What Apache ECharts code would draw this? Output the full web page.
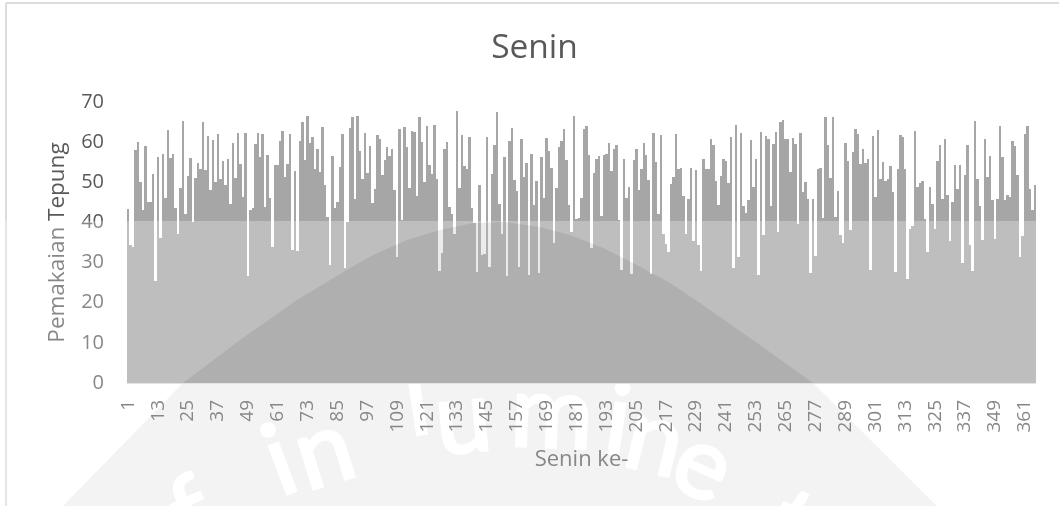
<!DOCTYPE html>
<html><head><meta charset="utf-8">
<style>html,body{margin:0;padding:0;background:#fff}#c{width:1059px;height:506px}</style>
<script src="https://cdn.jsdelivr.net/npm/echarts@6/dist/echarts.min.js"></script>
</head><body><div id="c"></div>
<script>
const chartTitle = "Senin";
const xAxisName = "Senin ke-";
const yAxisName = "Pemakaian Tepung";
const usageA = [43.4,34.5,34,58,60,50,43,59,45,45,52,25.5,56.3,36,57,46,63,56,57,43.5,37,48.5,65.3,42,51.5,56,40,51,54.7,53.4,65,53,61.5,48,60.5,50,62,50.7,55.3,49.4,55.7,44.7,59.8,51,62.4,54.5,46.3,62.2,26.6,43,43.7,59.5,62.2,56.3,62,43.8,56.7,46,34,54.4,54.4,60.3,62.8,51.3,54.5,62,33.2,52.8,32.8,60.3,65,55.5,66.5,59.7,61.2,53.2,58.2,52.6,63.8,49.2,41.3,29.4,56.5,43.7,45,53.8,62,28.6,40];
const usageB = [63.6,66.2,45.8,66.6,57.8,50.9,62.2,52.2,59,44.9,48.4,61.7,60.7,51.7,55.5,58.7,56.5,58.2,48,31.5,63.2,40.5,63.7,58.7,48.7,62.8,62.5,46.6,66.2,60.1,50,64,54.2,52,64.2,50.7,27.8,32.3,58.2,60.1,43.8,42,37.2,67.7,48.7,61.9,54.1,53.3,61.2,43.7,39.8,27.6,49.2,31.8,32.2,61.2,28.8,52,59.3,67.4,44.5,37,56.3,26.7,60.2,63.6,50.5,47.8,28.8,60.7,51.3,54.7,26.9,57,44.4,50.3,27.4,56.2,46.2,61.1,57.8,53.5,34.9,48.7,58.8,60.2,63.2,55.5,44.4,37.6,66.6,40.9,41.2];
const usageC = [46.2,63.2,64.1,56.8,33.7,52.2,55.9,56.6,41.6,56.8,57,59.9,52.8,58.2,59.3,40.5,28.2,55.9,46.1,48.8,27.2,55.5,58.2,48,53.4,59.8,56.9,50.5,27.2,62.2,55.1,42.2,61.9,37,34.7,32.6,49.5,51.3,62,53.2,53.5,46.6,37,45.8,53.6,35.3,53,34.4,27.8,55.7,53.4,53.2,60.7,59.4,50.2,44.3,51.5,55.8,55.3,49.9,61.3,28.6,64.3,31.5,62.4,44.1,42.3,45.5,60.5,48.8,55.7,26.9,62.6,36.9,61.5,60.7,44.1,59.5,62.6,37.7,65.1,65.5,60.7,60.7,52.6,61.1,59.5,39.7,62.2,47.6,50.1,45.9];
const usageD = [27.4,45.9,31.6,53.3,53.6,41.1,66.3,59.3,51.1,66.3,41.3,47.8,36.9,34.8,59.7,55.3,38,57.6,63.2,62,54.5,58.4,54.7,55.8,28.2,61.6,46.3,63,50.8,55.1,50.2,50.7,54,47.6,27.6,53.4,61.9,61.3,53.2,25.9,38.4,39.2,62.8,48.8,49.7,50.3,40.9,32.6,48.8,44.5,38.3,55.3,59.3,45.9,60.7,46.8,35.3,45,54.3,48.3,54.4,29.9,51.8,59.4,34.4,27.8,65.3,50.7,44.1,35.7,60.9,51.3,56.5,45.7,35.8,45.8,64,56.3,45.5,46.8,46.3,60.3,59.1,51.9,31.5,36.5,62,64,48.4,43.2,49.3];
const usage = usageA.concat(usageB, usageC, usageD);
const categories = usage.map((_, i) => String(i + 1));

/* Background watermark outline (decoration, not data) */
const domeTop = [[183,383],[240,340],[297,300],[350,268],[373,255],[407,240],[440,230],[473,223],[505,222],[540,227],[570,235],[603,248],[637,265],[670,283],[700,303],[760,345],[813,383]];
const domeBottom = [[63,506],[183,383],[813,383],[937,506]];
const wmLetters = [["f",192,515,0.42],["i",280,462,0.36],["n",324,452,0.3],["l",417,402,0.15],["u",463,420,0.1],["m",552,415,-0.04],["i",618,422,-0.14],["n",655,440,-0.24],["e",703,465,-0.42],["t",790,525,-0.5]];

const deco = [
  {type:'polygon', silent:true, z:-3, shape:{points:domeBottom}, style:{fill:'#efefef'}},
  ...wmLetters.map(l => ({type:'text', silent:true, z:-2, x:l[1], y:l[2], rotation:l[3],
    style:{text:l[0], fill:'#ffffff', stroke:'#ffffff', lineWidth:3, font:'400 100px Lato', textAlign:'center', textVerticalAlign:'middle'}})),
  {type:'line', silent:true, z:-1, shape:{x1:6,y1:3,x2:1059,y2:3}, style:{stroke:'#dcdcdc',lineWidth:2}},
  {type:'line', silent:true, z:-1, shape:{x1:6,y1:3,x2:6,y2:506}, style:{stroke:'#dcdcdc',lineWidth:2}},
  {type:'rect', silent:true, z:10, shape:{x:0,y:221,width:1059,height:285}, style:{fill:'rgba(255,255,255,0.28)'}},
  {type:'polygon', silent:true, z:11, shape:{points:domeTop}, style:{fill:'rgba(0,0,0,0.08)'}}
];

function drawBar(params, api) {
  const top = api.coord([api.value(0), api.value(1)]);
  const base = api.coord([api.value(0), 0]);
  const w = api.size([1, 0])[0];
  const x0 = Math.round(top[0] - w / 2);
  const x1 = Math.round(top[0] + w / 2);
  return {type:'rect', shape:{x:x0, y:Math.round(top[1]), width:x1 - x0, height:Math.round(base[1]) - Math.round(top[1])},
    style:{fill:'#a6a6a6'}};
}

const chart = echarts.init(document.getElementById('c'), null, {renderer:'canvas'});
chart.setOption({
  animation:false,
  backgroundColor:'#ffffff',
  title:{text:chartTitle, left:529.5, top:26, textAlign:'center',
    textStyle:{fontFamily:'"Open Sans"', fontSize:33.5, fontWeight:'normal', color:'#595959'}},
  grid:{left:127, right:23, top:102, bottom:123},
  xAxis:{type:'category', data:categories, z:3, name:xAxisName, nameLocation:'middle', nameGap:66,
    nameTextStyle:{fontFamily:'"Open Sans"', fontSize:22, color:'#595959'},
    axisLine:{lineStyle:{color:'#d9d9d9',width:1}}, axisTick:{show:false},
    axisLabel:{interval:11, rotate:90, margin:17, fontFamily:'"Open Sans"', fontSize:19, color:'#595959'}},
  yAxis:{type:'value', min:0, max:70, interval:10, z:3, name:yAxisName, nameLocation:'middle', nameGap:58,
    nameTextStyle:{fontFamily:'"Open Sans"', fontSize:22.5, color:'#595959'},
    axisLine:{show:false}, axisTick:{show:false}, splitLine:{show:false},
    axisLabel:{margin:23, fontFamily:'"Open Sans"', fontSize:20, color:'#595959'}},
  series:[{type:'custom', data:usage.map((v, i) => [i, v]), encode:{x:0, y:1}, renderItem:drawBar, silent:true, clip:true}],
  graphic:deco
});
</script></body></html>
